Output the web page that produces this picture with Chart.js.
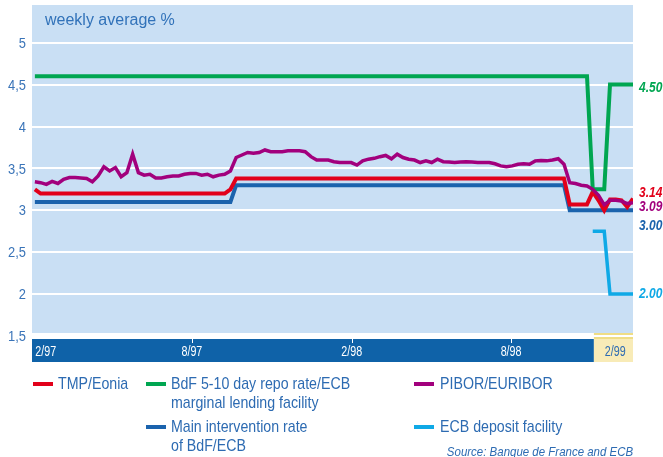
<!DOCTYPE html>
<html>
<head>
<meta charset="utf-8">
<script src="https://cdn.jsdelivr.net/npm/chart.js@4.4.1/dist/chart.umd.min.js"></script>
<style>
  body { margin: 0; background: #fff; }
  #wrap { position: relative; width: 663px; height: 457px; overflow: hidden; }
  #c { position: absolute; left: 0; top: 0; }
  .t { position: absolute; white-space: nowrap; color: #2d6bb2;
       font-family: 'Liberation Sans', Arial, sans-serif; }
  .title { left: 45px; top: 11px; font-size: 16px; line-height: 18px; color: #3172b9; }
  .leg { font-size: 17px; line-height: 19px; transform: scaleX(0.835); transform-origin: left top; }
  .mk { position: absolute; width: 20px; height: 4px; }
  .src { right: 30px; top: 444px; font-size: 13.5px; line-height: 16px; font-style: italic;
         transform: scaleX(0.85); transform-origin: right top; }
</style>
</head>
<body>
<div id="wrap">
  <canvas id="c" width="663" height="457"></canvas>
  <div class="t title">weekly average %</div>

  <div class="mk" style="left:33px;top:382px;background:#e2001a"></div>
  <div class="t leg" style="left:58px;top:374px">TMP/Eonia</div>

  <div class="mk" style="left:146px;top:382px;background:#00a651"></div>
  <div class="t leg" style="left:171px;top:374px">BdF 5-10 day repo rate/ECB<br>marginal lending facility</div>

  <div class="mk" style="left:414px;top:382px;background:#a2007d"></div>
  <div class="t leg" style="left:440px;top:374px">PIBOR/EURIBOR</div>

  <div class="mk" style="left:146px;top:425px;background:#1b63ad"></div>
  <div class="t leg" style="left:171px;top:417px">Main intervention rate<br>of BdF/ECB</div>

  <div class="mk" style="left:414px;top:425px;background:#0fa9e6"></div>
  <div class="t leg" style="left:440px;top:417px">ECB deposit facility</div>

  <div class="t src">Source: Banque de France and ECB</div>
</div>

<script>
// weekly observations, week 0 = early Feb 1997
const pibor = [
  3.34, 3.33, 3.31, 3.345, 3.32, 3.37, 3.39, 3.39, 3.385, 3.38, 3.34, 3.41, 3.52, 3.47, 3.51,
  3.40, 3.45, 3.67, 3.45, 3.42, 3.43, 3.385, 3.385, 3.40, 3.41, 3.41, 3.43, 3.44, 3.44, 3.42,
  3.43, 3.40, 3.42, 3.43, 3.47, 3.63, 3.66, 3.69, 3.68, 3.69, 3.72, 3.70, 3.70, 3.70, 3.71,
  3.71, 3.71, 3.70, 3.64, 3.60, 3.60, 3.60, 3.58, 3.57, 3.57, 3.57, 3.54, 3.59, 3.61, 3.62,
  3.64, 3.655, 3.615, 3.67, 3.63, 3.61, 3.60, 3.57, 3.59, 3.57, 3.61, 3.58, 3.575, 3.57, 3.575,
  3.58, 3.575, 3.57, 3.57, 3.57, 3.555, 3.53, 3.52, 3.53, 3.55, 3.555, 3.55, 3.59, 3.595, 3.59,
  3.60, 3.615, 3.55, 3.33, 3.32, 3.30, 3.29, 3.25, 3.18, 3.065, 3.12, 3.12, 3.11, 3.08, 3.09
];
const tmp = [
  3.25, 3.20, 3.20, 3.20, 3.20, 3.20, 3.20, 3.20, 3.20, 3.20, 3.20, 3.20, 3.20, 3.20, 3.20,
  3.20, 3.20, 3.20, 3.20, 3.20, 3.20, 3.20, 3.20, 3.20, 3.20, 3.20, 3.20, 3.20, 3.20, 3.20,
  3.20, 3.20, 3.20, 3.20, 3.25, 3.38, 3.38, 3.38, 3.38, 3.38, 3.38, 3.38, 3.38, 3.38, 3.38,
  3.38, 3.38, 3.38, 3.38, 3.38, 3.38, 3.38, 3.38, 3.38, 3.38, 3.38, 3.38, 3.38, 3.38, 3.38,
  3.38, 3.38, 3.38, 3.38, 3.38, 3.38, 3.38, 3.38, 3.38, 3.38, 3.38, 3.38, 3.38, 3.38, 3.38,
  3.38, 3.38, 3.38, 3.38, 3.38, 3.38, 3.38, 3.38, 3.38, 3.38, 3.38, 3.38, 3.38, 3.38, 3.38,
  3.38, 3.38, 3.38, 3.07, 3.07, 3.07, 3.07, 3.22, 3.12, 3.00, 3.13, 3.13, 3.12, 3.04, 3.14
];
const mainRate = [
  3.10, 3.10, 3.10, 3.10, 3.10, 3.10, 3.10, 3.10, 3.10, 3.10, 3.10, 3.10, 3.10, 3.10, 3.10,
  3.10, 3.10, 3.10, 3.10, 3.10, 3.10, 3.10, 3.10, 3.10, 3.10, 3.10, 3.10, 3.10, 3.10, 3.10,
  3.10, 3.10, 3.10, 3.10, 3.10, 3.30, 3.30, 3.30, 3.30, 3.30, 3.30, 3.30, 3.30, 3.30, 3.30,
  3.30, 3.30, 3.30, 3.30, 3.30, 3.30, 3.30, 3.30, 3.30, 3.30, 3.30, 3.30, 3.30, 3.30, 3.30,
  3.30, 3.30, 3.30, 3.30, 3.30, 3.30, 3.30, 3.30, 3.30, 3.30, 3.30, 3.30, 3.30, 3.30, 3.30,
  3.30, 3.30, 3.30, 3.30, 3.30, 3.30, 3.30, 3.30, 3.30, 3.30, 3.30, 3.30, 3.30, 3.30, 3.30,
  3.30, 3.30, 3.30, 3.00, 3.00, 3.00, 3.00, 3.00, 3.00, 3.00, 3.00, 3.00, 3.00, 3.00, 3.00
];
const repoRate = [
  4.60, 4.60, 4.60, 4.60, 4.60, 4.60, 4.60, 4.60, 4.60, 4.60, 4.60, 4.60, 4.60, 4.60, 4.60,
  4.60, 4.60, 4.60, 4.60, 4.60, 4.60, 4.60, 4.60, 4.60, 4.60, 4.60, 4.60, 4.60, 4.60, 4.60,
  4.60, 4.60, 4.60, 4.60, 4.60, 4.60, 4.60, 4.60, 4.60, 4.60, 4.60, 4.60, 4.60, 4.60, 4.60,
  4.60, 4.60, 4.60, 4.60, 4.60, 4.60, 4.60, 4.60, 4.60, 4.60, 4.60, 4.60, 4.60, 4.60, 4.60,
  4.60, 4.60, 4.60, 4.60, 4.60, 4.60, 4.60, 4.60, 4.60, 4.60, 4.60, 4.60, 4.60, 4.60, 4.60,
  4.60, 4.60, 4.60, 4.60, 4.60, 4.60, 4.60, 4.60, 4.60, 4.60, 4.60, 4.60, 4.60, 4.60, 4.60,
  4.60, 4.60, 4.60, 4.60, 4.60, 4.60, 4.60, 3.25, 3.25, 3.25, 4.50, 4.50, 4.50, 4.50, 4.50
];
// ECB deposit facility only exists from January 1999
const depositWeeks = [97, 98, 99, 100, 101, 102, 103, 104];
const depositRate = [2.75, 2.75, 2.75, 2.00, 2.00, 2.00, 2.00, 2.00];

const weeks = pibor.map((v, i) => i);
const euroStartWeek = 97.2;

const yTicks = [1.5, 2, 2.5, 3, 3.5, 4, 4.5, 5];
const yTickLabels = ['1,5', '2', '2,5', '3', '3,5', '4', '4,5', '5'];
const xTickWeeks = [1.9, 27.3, 55.1, 82.8, 100.9];
const xTickLabels = ['2/97', '8/97', '2/98', '8/98', '2/99'];

// where the end-of-series value labels sit (value units), to keep them apart
const endLabelAt = [4.46, 3.214, 3.036, 2.82, 2.0];

const C_BG = '#c9dff4', C_BAND = '#0f62a8', C_TEXT = '#2d6bb2';
const FONT = "'Liberation Sans', Arial, sans-serif";

// the original uses a condensed face; squeeze a regular one horizontally
function narrowText(ctx, text, x, y, sx, align) {
  ctx.save();
  ctx.translate(x, y);
  ctx.scale(sx, 1);
  ctx.textAlign = align;
  ctx.fillText(text, 0, 0);
  ctx.restore();
}

const decor = {
  id: 'decor',
  beforeDraw(chart) {
    const { ctx, chartArea: a, scales: { x, y } } = chart;
    const y0 = y.getPixelForValue(1.5);
    const xe = x.getPixelForValue(euroStartWeek);
    ctx.save();
    ctx.fillStyle = C_BG;
    ctx.fillRect(a.left, a.top, a.right - a.left, y0 - 3 - a.top);
    ctx.fillStyle = C_BAND;
    ctx.fillRect(a.left, y0 + 3, xe - a.left, 23);
    ctx.fillStyle = '#efdd85';
    ctx.fillRect(xe, y0 - 3, a.right - xe, 6);
    ctx.fillStyle = '#f8ebb7';
    ctx.fillRect(xe, y0 + 3, a.right - xe, 23);
    ctx.restore();
  },
  afterDraw(chart) {
    const { ctx, chartArea: a, scales: { x, y } } = chart;
    const y0 = y.getPixelForValue(1.5);
    ctx.save();
    ctx.textBaseline = 'middle';

    // y axis labels
    ctx.font = '15px ' + FONT;
    ctx.fillStyle = '#3a74b8';
    yTicks.forEach((v, i) => narrowText(ctx, yTickLabels[i], a.left - 6, y.getPixelForValue(v) + 1, 0.86, 'right'));

    // x axis labels in the band
    ctx.font = '14.5px ' + FONT;
    xTickLabels.forEach((lab, i) => {
      const px = x.getPixelForValue(xTickWeeks[i]);
      const last = i === xTickLabels.length - 1;
      if (i > 0 && !last) {
        ctx.fillStyle = '#fff';
        ctx.fillRect(Math.round(px), y0 + 3, 1, 4);
      }
      ctx.fillStyle = last ? C_TEXT : '#fff';
      narrowText(ctx, lab, px, y0 + 16, 0.74, 'center');
    });

    // value labels at the right end of each series
    const ends = [
      [repoRate, '#00a651'],
      [tmp, '#e2001a'],
      [pibor, '#a2007d'],
      [mainRate, '#1b63ad'],
      [depositRate, '#0fa9e6']
    ];
    ctx.font = 'italic bold 15px ' + FONT;
    ends.forEach(([s, col], i) => {
      ctx.fillStyle = col;
      narrowText(ctx, s[s.length - 1].toFixed(2), a.right + 6, y.getPixelForValue(endLabelAt[i]), 0.8, 'left');
    });
    ctx.restore();
  }
};

function line(data, color, w) {
  return { data, borderColor: color, borderWidth: w, pointRadius: 0, tension: 0, fill: false };
}

new Chart(document.getElementById('c'), {
  type: 'line',
  data: {
    labels: weeks,
    datasets: [
      line(pibor, '#a2007d', 3.5),
      line(repoRate, '#00a651', 4),
      line(tmp, '#e2001a', 4),
      line(mainRate, '#1b63ad', 4),
      line(depositWeeks.map((w, i) => ({ x: w, y: depositRate[i] })), '#0fa9e6', 3.5)
    ]
  },
  options: {
    responsive: false,
    animation: false,
    layout: { padding: { top: 5, right: 30, bottom: 121, left: 0 } },
    plugins: { legend: { display: false }, tooltip: { enabled: false } },
    scales: {
      x: { type: 'linear', min: -0.5, max: 104, display: false },
      y: {
        min: 1.5,
        max: 5.45,
        afterFit(s) { s.width = 32; s.paddingTop = 0; s.paddingBottom = 0; },
        afterBuildTicks(s) { s.ticks = yTicks.map(v => ({ value: v })); },
        grid: { color: '#fff', lineWidth: 2, drawTicks: false },
        border: { display: false },
        ticks: { display: false }
      }
    }
  },
  plugins: [decor]
});
</script>
</body>
</html>
